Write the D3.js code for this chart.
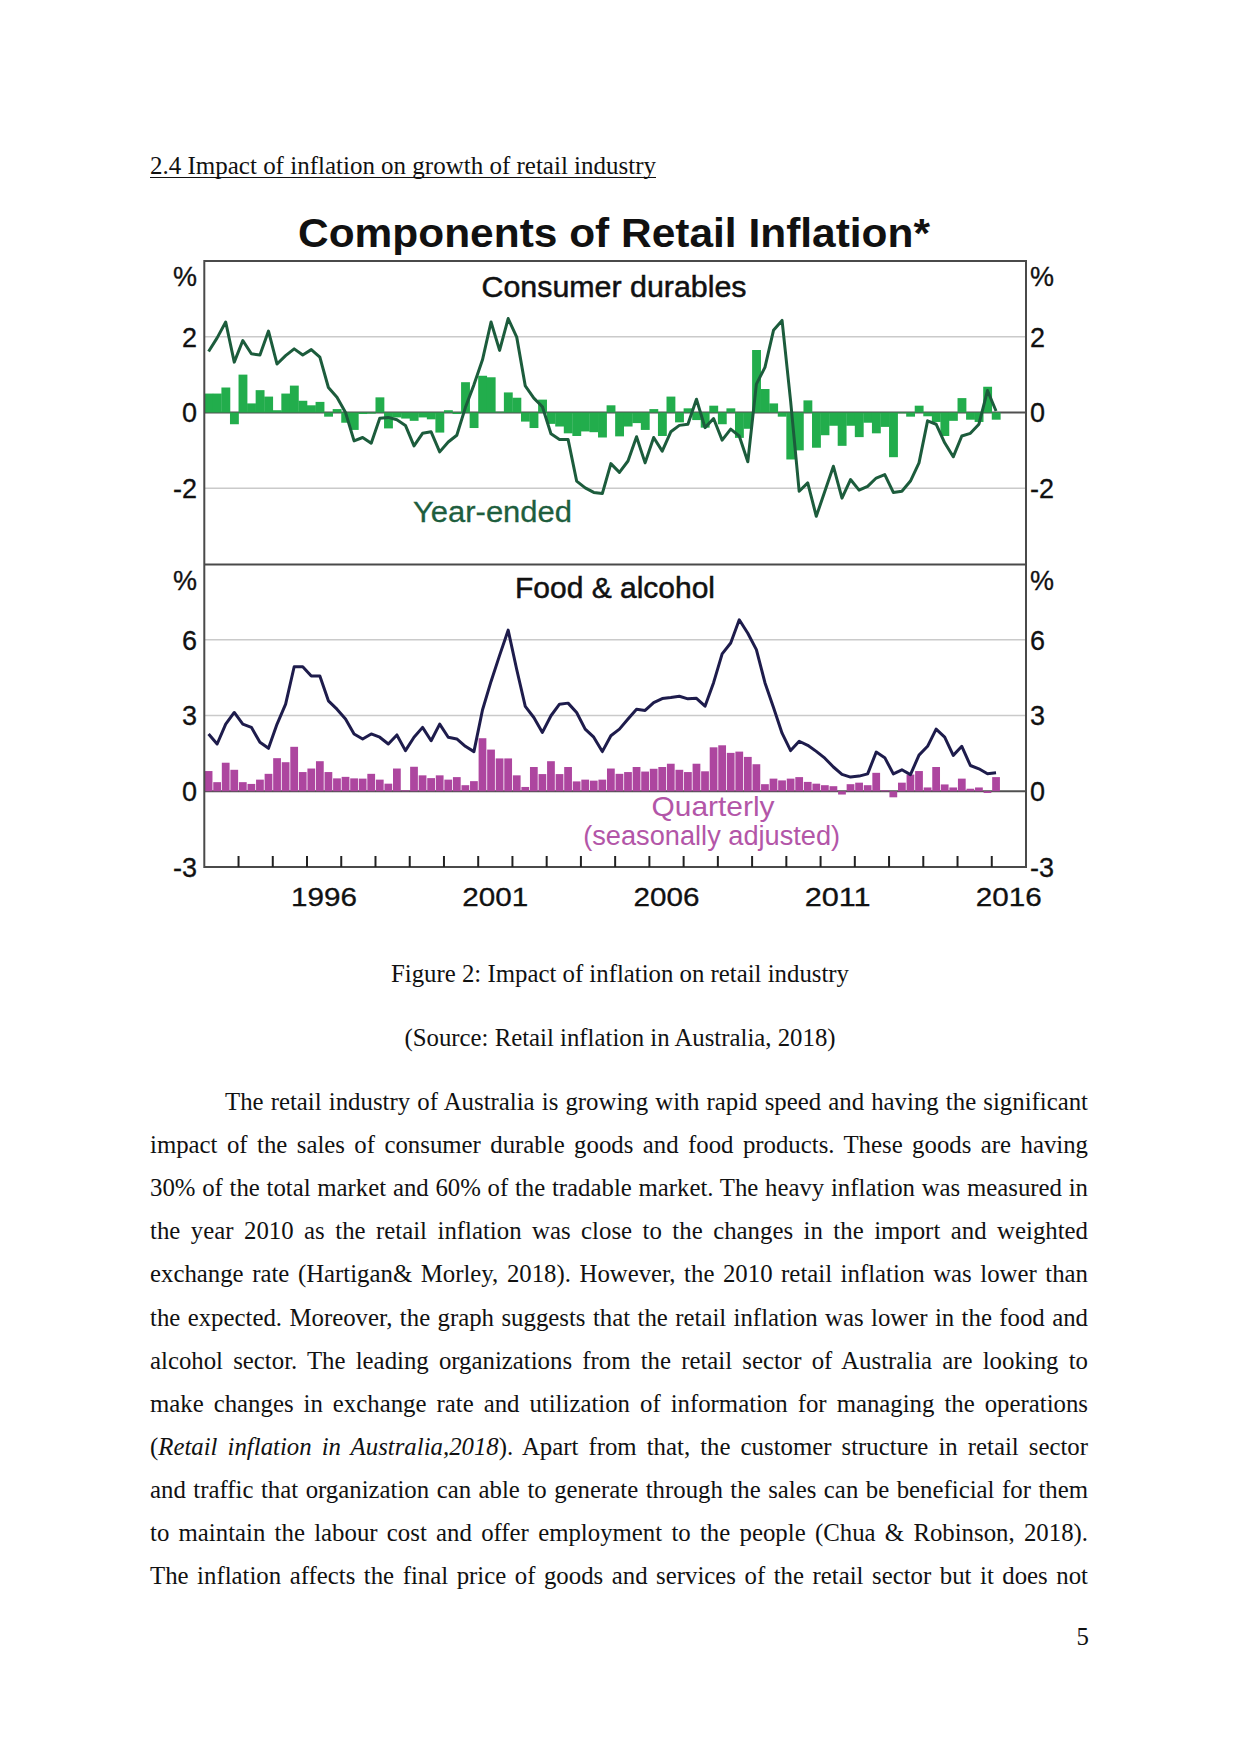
<!DOCTYPE html>
<html><head><meta charset="utf-8">
<script src="https://cdn.jsdelivr.net/npm/d3@7"></script>
<style>body{margin:0;background:#fff} svg{display:block}</style>
</head><body>
<svg id="page" width="1241" height="1754"></svg>
<script>
// ---------- DATA ----------
const startYear = 1993;          // first quarter: 1993 Q1
const quarterCount = 93;         // to 2016 Q1
const durablesQuarterly = [0.50,0.50,0.66,-0.31,1.00,0.24,0.59,0.42,0.06,0.50,0.71,0.31,0.19,0.28,-0.11,0.09,-0.27,-0.46,-0.04,-0.03,
 0.40,-0.42,-0.13,-0.16,-0.22,-0.13,-0.18,-0.53,0.06,-0.04,0.80,-0.41,0.97,0.93,0.02,0.53,0.39,-0.24,-0.41,0.34,
 -0.30,-0.37,-0.55,-0.62,-0.50,-0.52,-0.66,0.19,-0.63,-0.37,-0.28,-0.46,0.09,-0.62,0.42,-0.26,0.11,-0.20,-0.40,0.18,
 -0.31,0.11,-0.67,-0.43,1.65,0.62,0.24,-0.11,-1.24,-1.00,0.32,-0.93,-0.60,-0.35,-0.88,-0.35,-0.65,-0.27,-0.55,-0.38,
 -1.18,-0.02,-0.11,0.18,-0.10,-0.25,-0.62,-0.22,0.38,-0.19,-0.25,0.68,-0.19];
const durablesYearEnded = [1.61,1.97,2.39,1.33,1.90,1.55,1.52,2.15,1.28,1.50,1.68,1.52,1.66,1.46,0.66,0.40,0.00,-0.75,-0.66,-0.81,
 -0.15,-0.13,-0.19,-0.34,-0.88,-0.55,-0.51,-1.04,-0.78,-0.60,0.13,0.73,1.39,2.39,1.64,2.48,1.99,0.70,0.38,0.15,
 -0.56,-0.71,-0.71,-1.81,-1.99,-2.11,-2.14,-1.35,-1.58,-1.28,-0.64,-1.33,-0.66,-1.02,-0.51,-0.34,-0.31,0.35,-0.40,-0.16,
 -0.73,-0.44,-0.62,-1.30,0.75,1.19,2.17,2.43,0.30,-2.08,-1.86,-2.74,-2.08,-1.42,-2.26,-1.77,-2.05,-1.95,-1.73,-1.64,
 -2.11,-2.08,-1.81,-1.33,-0.22,-0.31,-0.80,-1.17,-0.62,-0.55,-0.31,0.58,0.04];
const foodQuarterly = [0.80,0.36,1.13,0.85,0.36,0.29,0.46,0.69,1.31,1.15,1.76,0.76,0.90,1.19,0.76,0.51,0.57,0.51,0.50,0.69,
 0.46,0.30,0.90,0.04,0.97,0.63,0.52,0.63,0.46,0.56,0.24,0.40,2.10,1.65,1.30,1.30,0.63,0.17,0.96,0.68,
 1.19,0.68,0.96,0.39,0.46,0.42,0.46,0.90,0.69,0.76,0.96,0.78,0.89,0.96,1.09,0.85,0.76,1.09,0.79,1.74,
 1.82,1.52,1.57,1.36,1.07,0.28,0.50,0.43,0.50,0.56,0.37,0.30,0.24,0.20,-0.13,0.28,0.34,0.24,0.73,0.04,
 -0.24,0.34,0.66,0.80,0.15,0.96,0.27,0.15,0.50,0.10,0.15,-0.07,0.56];
const foodYearEnded = [2.27,1.87,2.66,3.12,2.66,2.53,1.94,1.70,2.66,3.45,4.93,4.93,4.56,4.56,3.58,3.25,2.86,2.27,2.07,2.27,
 2.14,1.87,2.23,1.61,2.14,2.53,2.00,2.66,2.14,2.07,1.78,1.57,3.22,4.35,5.38,6.38,4.82,3.36,2.92,2.33,
 2.99,3.45,3.49,3.12,2.46,2.14,1.57,2.20,2.46,2.86,3.25,3.20,3.51,3.67,3.71,3.76,3.66,3.68,3.37,4.30,
 5.44,5.87,6.79,6.26,5.61,4.30,3.32,2.30,1.61,1.98,1.82,1.58,1.31,0.96,0.67,0.56,0.60,0.69,1.55,1.33,
 0.69,0.85,0.66,1.43,1.78,2.46,2.14,1.42,1.78,1.02,0.89,0.69,0.73];
const topTicks = [2, 0, -2];
const bottomTicks = [6, 3, 0, -3];
const yearLabels = [1996, 2001, 2006, 2011, 2016];
const tickYears = d3.range(1994, 2017);

const heading = "2.4 Impact of inflation on growth of retail industry";
const chartTitle = "Components of Retail Inflation*";
const caption1 = "Figure 2: Impact of inflation on retail industry";
const caption2 = "(Source: Retail inflation in Australia, 2018)";
const bodyLines = [
 [["The retail industry of Australia is growing with rapid speed and having the significant", false]],
 [["impact of the sales of consumer durable goods and food products. These goods are having", false]],
 [["30% of the total market and 60% of the tradable market. The heavy inflation was measured in", false]],
 [["the year 2010 as the retail inflation was close to the changes in the import and weighted", false]],
 [["exchange rate (Hartigan& Morley, 2018). However, the 2010 retail inflation was lower than", false]],
 [["the expected. Moreover, the graph suggests that the retail inflation was lower in the food and", false]],
 [["alcohol sector. The leading organizations from the retail sector of Australia are looking to", false]],
 [["make changes in exchange rate and utilization of information for managing the operations", false]],
 [["(", false],["Retail inflation in Australia,2018", true],["). Apart from that, the customer structure in retail sector", false]],
 [["and traffic that organization can able to generate through the sales can be beneficial for them", false]],
 [["to maintain the labour cost and offer employment to the people (Chua & Robinson, 2018).", false]],
 [["The inflation affects the final price of goods and services of the retail sector but it does not", false]]
];

// ---------- SETUP ----------
const svg = d3.select("#page");
const serif = "'Liberation Serif','Times New Roman',serif";
const sans = "'Liberation Sans',Arial,Helvetica,sans-serif";
const quarters = d3.range(quarterCount).map(i => startYear + i * 0.25);

const L = 204.3, R = 1026;
const x = d3.scaleLinear().domain([1993, 2017]).range([L, R]);
const yTop = d3.scaleLinear().domain([-4, 4]).range([564, 261]);
const yBot = d3.scaleLinear().domain([-3, 9]).range([867, 564]);

const cGreenBar = "#22ad4c", cGreenLine = "#1c5c3c";
const cPurpleBar = "#ad469f", cNavy = "#1e1c4c";

// ---------- DOCUMENT TEXT ----------
const docSize = 24.8;
svg.append("text").attr("x", 150).attr("y", 173.5)
  .attr("font-family", serif).attr("font-size", docSize).attr("fill", "#111")
  .attr("textLength", 506).attr("lengthAdjust", "spacingAndGlyphs").text(heading);
svg.append("line").attr("x1", 150).attr("x2", 656).attr("y1", 177.5).attr("y2", 177.5)
  .attr("stroke", "#111").attr("stroke-width", 1.2);

svg.append("text").attr("x", 620).attr("y", 982).attr("text-anchor", "middle")
  .attr("font-family", serif).attr("font-size", docSize).attr("fill", "#111").text(caption1);
svg.append("text").attr("x", 620).attr("y", 1046).attr("text-anchor", "middle")
  .attr("font-family", serif).attr("font-size", docSize).attr("fill", "#111").text(caption2);

bodyLines.forEach((parts, i) => {
  const x0 = i === 0 ? 225 : 150, x1 = 1088;
  const t = svg.append("text").attr("x", x0).attr("y", 1110 + 43.1 * i)
    .attr("font-family", serif).attr("font-size", docSize).attr("fill", "#111");
  parts.forEach(([s, it]) => t.append("tspan").attr("font-style", it ? "italic" : "normal").text(s));
  const full = parts.map(p => p[0]).join("");
  const spaces = (full.match(/ /g) || []).length;
  const w = t.node().getComputedTextLength();
  if (spaces > 0) t.attr("word-spacing", (x1 - x0 - w) / spaces);
});

svg.append("text").attr("x", 1089).attr("y", 1645).attr("text-anchor", "end")
  .attr("font-family", serif).attr("font-size", docSize).attr("fill", "#111").text("5");

// ---------- CHART ----------
const g = svg.append("g");

// title
g.append("text").attr("x", 614).attr("y", 246.7).attr("text-anchor", "middle")
  .attr("font-family", sans).attr("font-weight", "bold").attr("font-size", 41).attr("fill", "#111")
  .attr("textLength", 632).attr("lengthAdjust", "spacingAndGlyphs").text(chartTitle);

// gridlines
const gridCol = "#cacaca";
[2, -2].forEach(v => g.append("line").attr("x1", L).attr("x2", R).attr("y1", yTop(v)).attr("y2", yTop(v))
  .attr("stroke", gridCol).attr("stroke-width", 1.6));
[6, 3].forEach(v => g.append("line").attr("x1", L).attr("x2", R).attr("y1", yBot(v)).attr("y2", yBot(v))
  .attr("stroke", gridCol).attr("stroke-width", 1.6));
// zero lines
g.append("line").attr("x1", L).attr("x2", R).attr("y1", yTop(0)).attr("y2", yTop(0)).attr("stroke", "#505050").attr("stroke-width", 1.8);
g.append("line").attr("x1", L).attr("x2", R).attr("y1", yBot(0)).attr("y2", yBot(0)).attr("stroke", "#505050").attr("stroke-width", 1.8);

// bars
const qw = x(1993.25) - x(1993);
g.append("g").selectAll("rect").data(durablesQuarterly).join("rect")
  .attr("x", (d, i) => x(quarters[i]))
  .attr("width", qw + 0.3)
  .attr("y", d => yTop(Math.max(0, d)))
  .attr("height", d => Math.abs(yTop(d) - yTop(0)))
  .attr("fill", cGreenBar);
g.append("g").selectAll("rect").data(foodQuarterly).join("rect")
  .attr("x", (d, i) => x(quarters[i]) + 0.4)
  .attr("width", qw - 0.8)
  .attr("y", d => yBot(Math.max(0, d)))
  .attr("height", d => Math.abs(yBot(d) - yBot(0)))
  .attr("fill", cPurpleBar);

// lines
const lineTop = d3.line().x((d, i) => x(quarters[i] + 0.125)).y(d => yTop(d));
const lineBot = d3.line().x((d, i) => x(quarters[i] + 0.125)).y(d => yBot(d));
g.append("path").attr("d", lineTop(durablesYearEnded)).attr("fill", "none")
  .attr("stroke", cGreenLine).attr("stroke-width", 3).attr("stroke-linejoin", "round");
g.append("path").attr("d", lineBot(foodYearEnded)).attr("fill", "none")
  .attr("stroke", cNavy).attr("stroke-width", 3).attr("stroke-linejoin", "round");

// frame
g.append("rect").attr("x", L).attr("y", 261).attr("width", R - L).attr("height", 867 - 261)
  .attr("fill", "none").attr("stroke", "#4a4a4a").attr("stroke-width", 2);
g.append("line").attr("x1", L).attr("x2", R).attr("y1", 564.5).attr("y2", 564.5)
  .attr("stroke", "#4a4a4a").attr("stroke-width", 2);

// x ticks (inside, upward)
g.append("g").selectAll("line").data(tickYears).join("line")
  .attr("x1", d => x(d)).attr("x2", d => x(d)).attr("y1", 867).attr("y2", 856)
  .attr("stroke", "#222").attr("stroke-width", 2);
g.append("g").selectAll("text").data(yearLabels).join("text")
  .attr("x", d => x(d + 0.5)).attr("y", 906).attr("text-anchor", "middle")
  .attr("font-family", sans).attr("font-size", 26).attr("fill", "#111")
  .attr("stroke", "#111").attr("stroke-width", 0.3)
  .attr("textLength", 66).attr("lengthAdjust", "spacingAndGlyphs").text(d => d);

// y labels
function yLabels(ticks, scale, pctY) {
  const add = (xx, yy, anchor, txt) => g.append("text").attr("x", xx).attr("y", yy).attr("text-anchor", anchor)
      .attr("font-family", sans).attr("font-size", 27).attr("fill", "#111")
      .attr("stroke", "#111").attr("stroke-width", 0.3).text(txt);
  ticks.forEach(v => {
    add(197, scale(v) + 9.8, "end", v);
    add(1030, scale(v) + 9.8, "start", v);
  });
  add(197, pctY, "end", "%");
  add(1030, pctY, "start", "%");
}
yLabels(topTicks, yTop, 286);
yLabels(bottomTicks, yBot, 590);

// panel annotations
g.append("text").attr("x", 614).attr("y", 296.7).attr("text-anchor", "middle")
  .attr("font-family", sans).attr("font-size", 30).attr("fill", "#111")
  .attr("stroke", "#111").attr("stroke-width", 0.5)
  .attr("textLength", 265).attr("lengthAdjust", "spacingAndGlyphs").text("Consumer durables");
g.append("text").attr("x", 413).attr("y", 521.7)
  .attr("font-family", sans).attr("font-size", 30).attr("fill", "#1e5e3e")
  .attr("stroke", "#1e5e3e").attr("stroke-width", 0.3)
  .attr("textLength", 159).attr("lengthAdjust", "spacingAndGlyphs").text("Year-ended");
g.append("text").attr("x", 615).attr("y", 598.3).attr("text-anchor", "middle")
  .attr("font-family", sans).attr("font-size", 30).attr("fill", "#111")
  .attr("stroke", "#111").attr("stroke-width", 0.5)
  .attr("textLength", 200).attr("lengthAdjust", "spacingAndGlyphs").text("Food & alcohol");
g.append("text").attr("x", 713).attr("y", 816).attr("text-anchor", "middle")
  .attr("font-family", sans).attr("font-size", 28).attr("fill", "#b356a8")
  .attr("textLength", 123).attr("lengthAdjust", "spacingAndGlyphs").text("Quarterly");
g.append("text").attr("x", 711.7).attr("y", 845).attr("text-anchor", "middle")
  .attr("font-family", sans).attr("font-size", 27).attr("fill", "#b356a8")
  .attr("textLength", 257).attr("lengthAdjust", "spacingAndGlyphs").text("(seasonally adjusted)");
</script></body></html>
